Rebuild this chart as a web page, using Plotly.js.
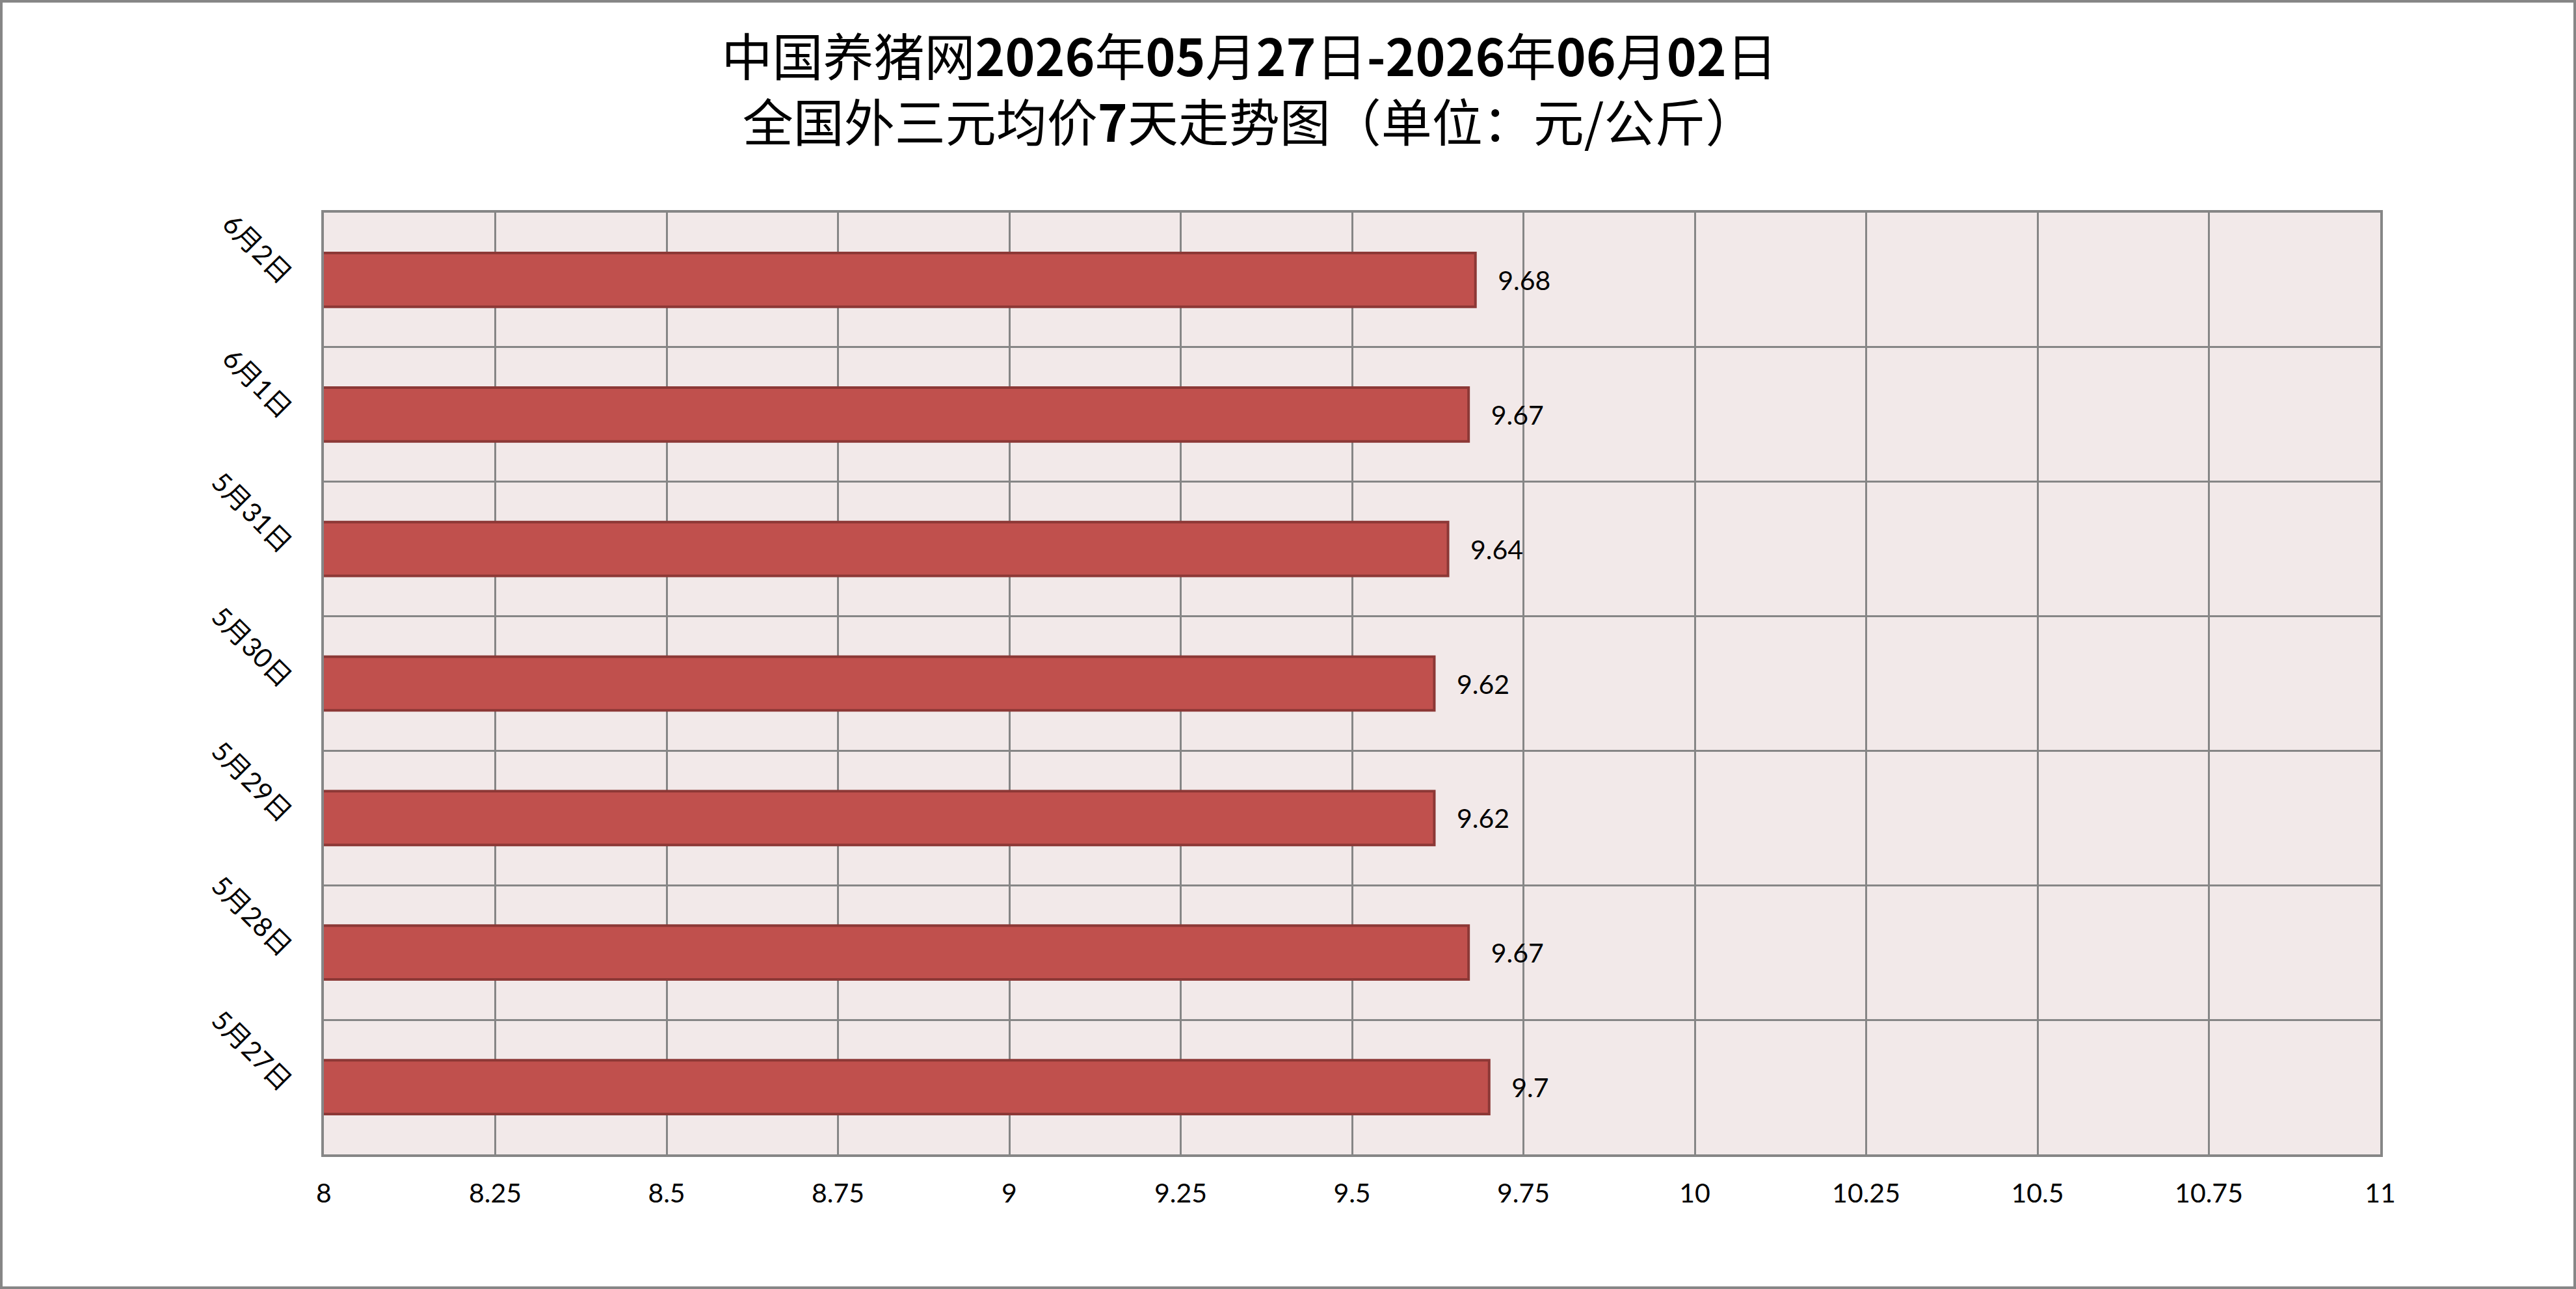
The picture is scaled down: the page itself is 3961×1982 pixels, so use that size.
<!DOCTYPE html>
<html>
<head>
<meta charset="utf-8">
<script src="https://cdn.plot.ly/plotly-3.0.1.min.js"></script>
<style>
  body { margin: 0; background: #fff; }
  #wrap { position: relative; width: 3961px; height: 1982px; }
  #graph { width: 3961px; height: 1982px; }
  #frame {
    position: absolute; left: 0; top: 0; width: 3961px; height: 1982px;
    box-sizing: border-box; border: 4px solid #868686; pointer-events: none;
  }
</style>
</head>
<body>
<div id="wrap">
  <div id="graph"></div>
  <div id="frame"></div>
</div>
<script>
// categories bottom to top, as drawn
const dates = ['5月27日', '5月28日', '5月29日', '5月30日', '5月31日', '6月1日', '6月2日']
const prices = [9.7, 9.67, 9.62, 9.62, 9.64, 9.67, 9.68]
const xTicks = [8, 8.25, 8.5, 8.75, 9, 9.25, 9.5, 9.75, 10, 10.25, 10.5, 10.75, 11]

const titleText =
  '中国养猪网<b>2026</b>年<b>05</b>月<b>27</b>日<b>-2026</b>年<b>06</b>月<b>02</b>日<br>' +
  '全国外三元均价<b>7</b>天走势图（单位：元/公斤）'

const gridColor = '#868686'
const labelFont = { family: 'Lato, "Noto Sans CJK SC", sans-serif', size: 41, color: '#000' }

Plotly.newPlot(
  'graph',
  [
    {
      type: 'bar',
      orientation: 'h',
      y: dates,
      x: prices,
      width: 0.4,
      marker: { color: '#C0504D', line: { color: '#8C3836', width: 4 } },
      text: prices.map(function (p) { return '\u00a0\u00a0\u00a0' + p }),
      textposition: 'outside',
      cliponaxis: true,
      textfont: labelFont,
      hoverinfo: 'skip'
    }
  ],
  {
    width: 3961,
    height: 1982,
    paper_bgcolor: '#ffffff',
    plot_bgcolor: '#F2E9E9',
    margin: { l: 498, r: 301, t: 327, b: 207 },
    showlegend: false,
    title: {
      text: titleText,
      x: 0.485,
      xanchor: 'center',
      xref: 'container',
      y: 0.941,
      yref: 'container',
      yanchor: 'middle',
      font: { family: '"Noto Sans CJK SC", sans-serif', size: 78, color: '#000' }
    },
    bargap: 0.6,
    xaxis: {
      range: [8, 11],
      tickvals: xTicks,
      ticktext: xTicks.map(String),
      showgrid: true,
      gridcolor: gridColor,
      gridwidth: 3,
      zeroline: false,
      showline: true,
      mirror: true,
      linecolor: gridColor,
      linewidth: 4,
      ticks: '',
      ticklabelstandoff: 21,
      tickfont: labelFont
    },
    yaxis: {
      type: 'category',
      categoryorder: 'array',
      categoryarray: dates,
      tickson: 'boundaries',
      showgrid: true,
      gridcolor: gridColor,
      gridwidth: 3,
      zeroline: false,
      showline: true,
      mirror: true,
      linecolor: gridColor,
      linewidth: 4,
      ticks: '',
      tickangle: 45,
      ticklabelstandoff: 40,
      tickfont: labelFont
    }
  },
  { staticPlot: true, displayModeBar: false }
)
</script>
</body>
</html>
